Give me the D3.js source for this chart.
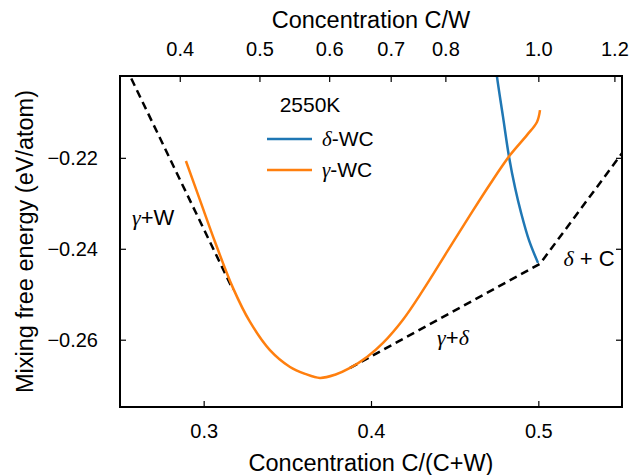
<!DOCTYPE html>
<html>
<head>
<meta charset="utf-8">
<script src="https://cdn.jsdelivr.net/npm/d3@7"></script>
<style>
body { margin: 0; background: #fff; }
text { font-family: "Liberation Sans", Arial, sans-serif; fill: #000; }
</style>
</head>
<body>
<script>
// gamma-WC free energy curve, x = C/(C+W), y = eV/atom
var gammaX = [0.2894, 0.2978, 0.3068, 0.3175, 0.3277, 0.3396, 0.3516, 0.3606, 0.3695, 0.3785, 0.3875, 0.3976, 0.4072, 0.4191, 0.4311, 0.4454, 0.4592, 0.4711, 0.4831, 0.4932, 0.4992, 0.5010];
var gammaY = [-0.2207, -0.2293, -0.2385, -0.2486, -0.2561, -0.2623, -0.2660, -0.2675, -0.2684, -0.2677, -0.2662, -0.2638, -0.2607, -0.2556, -0.2491, -0.2407, -0.2326, -0.2258, -0.2194, -0.2150, -0.2121, -0.2095];
// delta-WC curve
var deltaX = [0.4741, 0.4753, 0.4789, 0.4825, 0.4861, 0.4897, 0.4944, 0.4998];
var deltaY = [-0.1985, -0.2022, -0.2110, -0.2198, -0.2266, -0.2321, -0.2381, -0.2431];
// common tangent lines (dashed)
var tieWX = [0.2500, 0.3175];
var tieWY = [-0.1974, -0.2490];
var tieCX = [0.3875, 0.5010, 0.5500];
var tieCY = [-0.2662, -0.2433, -0.2190];
// ticks
var xTicks = [0.3, 0.4, 0.5];
var yTicks = [-0.22, -0.24, -0.26];
var ratioTicks = [0.4, 0.5, 0.6, 0.7, 0.8, 1.0, 1.2];
var ratioLabels = ["0.4", "0.5", "0.6", "0.7", "0.8", "1.0", "1.2"];

function init() {
    var w = 630, h = 475;
    var left = 120, right = 622, top = 76, bottom = 407;
    var blue = "#1f77b4", orange = "#ff7f0e";

    var x = d3.scaleLinear().domain([0.25, 0.55]).range([left, right]);
    var y = d3.scaleLinear().domain([-0.2748, -0.202]).range([bottom, top]);

    var svg = d3.select("body").append("svg")
        .attr("width", w)
        .attr("height", h);

    svg.append("clipPath").attr("id", "clip")
        .append("rect")
        .attr("x", left).attr("y", top)
        .attr("width", right - left).attr("height", bottom - top);

    var line = d3.line()
        .x(function (d) { return x(d[0]); })
        .y(function (d) { return y(d[1]); });
    var smooth = d3.line()
        .x(function (d) { return x(d[0]); })
        .y(function (d) { return y(d[1]); })
        .curve(d3.curveCatmullRom.alpha(0.5));

    var plot = svg.append("g").attr("clip-path", "url(#clip)");

    //dashed tangent lines
    [[tieWX, tieWY], [tieCX, tieCY]].forEach(function (t) {
        plot.append("path")
            .datum(d3.zip(t[0], t[1]))
            .attr("d", line)
            .attr("fill", "none")
            .attr("stroke", "#000")
            .attr("stroke-width", 2.5)
            .attr("stroke-dasharray", "8,5");
    });

    plot.append("path")
        .datum(d3.zip(deltaX, deltaY))
        .attr("d", smooth)
        .attr("fill", "none")
        .attr("stroke", blue)
        .attr("stroke-width", 2.5);

    plot.append("path")
        .datum(d3.zip(gammaX, gammaY))
        .attr("d", smooth)
        .attr("fill", "none")
        .attr("stroke", orange)
        .attr("stroke-width", 2.5);

    //axes with inward ticks
    var fs = "20px";
    var bottomAxis = svg.append("g")
        .attr("transform", "translate(0," + bottom + ")")
        .call(d3.axisBottom(x).tickValues(xTicks).tickSize(-6).tickPadding(17)
            .tickFormat(d3.format(".1f")));
    var leftAxis = svg.append("g")
        .attr("transform", "translate(" + left + ",0)")
        .call(d3.axisLeft(y).tickValues(yTicks).tickSize(-6).tickPadding(22)
            .tickFormat(d3.format(".2f")));
    var topAxis = svg.append("g")
        .attr("transform", "translate(0," + top + ")")
        .call(d3.axisTop(x)
            .tickValues(ratioTicks.map(function (r) { return r / (1 + r); }))
            .tickSize(-6).tickPadding(20)
            .tickFormat(function (d, i) { return ratioLabels[i]; }));
    var rightAxis = svg.append("g")
        .attr("transform", "translate(" + right + ",0)")
        .call(d3.axisRight(y).tickValues(yTicks).tickSize(-6).tickFormat(""));

    [bottomAxis, leftAxis, topAxis, rightAxis].forEach(function (a) {
        a.select(".domain").remove();
        a.selectAll("line").attr("stroke", "#000").attr("stroke-width", 1.2);
        a.selectAll("text")
            .attr("fill", "#000")
            .style("font-size", fs)
            .style("font-family", "'Liberation Sans', Arial, sans-serif");
    });
    leftAxis.selectAll("text").text(function (d) { return "\u2212" + d3.format(".2f")(-d); });

    svg.append("rect")
        .attr("x", left).attr("y", top)
        .attr("width", right - left).attr("height", bottom - top)
        .attr("fill", "none")
        .attr("stroke", "#000")
        .attr("stroke-width", 2);

    //axis titles
    var lfs = "23.5px";
    svg.append("text")
        .attr("x", (left + right) / 2).attr("y", 471)
        .attr("text-anchor", "middle")
        .style("font-size", lfs)
        .text("Concentration C/(C+W)");
    svg.append("text")
        .attr("x", (left + right) / 2).attr("y", 28)
        .attr("text-anchor", "middle")
        .style("font-size", lfs)
        .text("Concentration C/W");
    svg.append("text")
        .attr("transform", "translate(33," + (top + bottom) / 2 + ") rotate(-90)")
        .attr("text-anchor", "middle")
        .style("font-size", lfs)
        .text("Mixing free energy (eV/atom)");

    //legend
    svg.append("text")
        .attr("x", 310).attr("y", 112)
        .attr("text-anchor", "middle")
        .style("font-size", "21px")
        .text("2550K");
    var legend = [[blue, "\u03b4", 139], [orange, "\u03b3", 170]];
    legend.forEach(function (l) {
        svg.append("line")
            .attr("x1", 267).attr("x2", 312)
            .attr("y1", l[2]).attr("y2", l[2])
            .attr("stroke", l[0])
            .attr("stroke-width", 2.5);
        var t = svg.append("text")
            .attr("x", 322).attr("y", l[2] + 7)
            .style("font-size", "21px");
        t.append("tspan")
            .style("font-family", "'Liberation Serif', serif")
            .style("font-style", "italic")
            .text(l[1]);
        t.append("tspan").text("-WC");
    });

    //phase region labels
    function phaseLabel(px, py, parts) {
        var t = svg.append("text")
            .attr("x", x(px)).attr("y", y(py))
            .style("font-size", "22px");
        parts.forEach(function (p) {
            var s = t.append("tspan").text(p[0]);
            if (p[1]) {
                s.style("font-family", "'Liberation Serif', serif").style("font-style", "italic");
            }
        });
    }
    phaseLabel(0.2572, -0.2347, [["\u03b3", true], ["+W", false]]);
    phaseLabel(0.5150, -0.2437, [["\u03b4", true], [" + C", false]]);
    phaseLabel(0.4395, -0.2611, [["\u03b3", true], ["+", false], ["\u03b4", true]]);
}
window.onload = init;
</script>
</body>
</html>
